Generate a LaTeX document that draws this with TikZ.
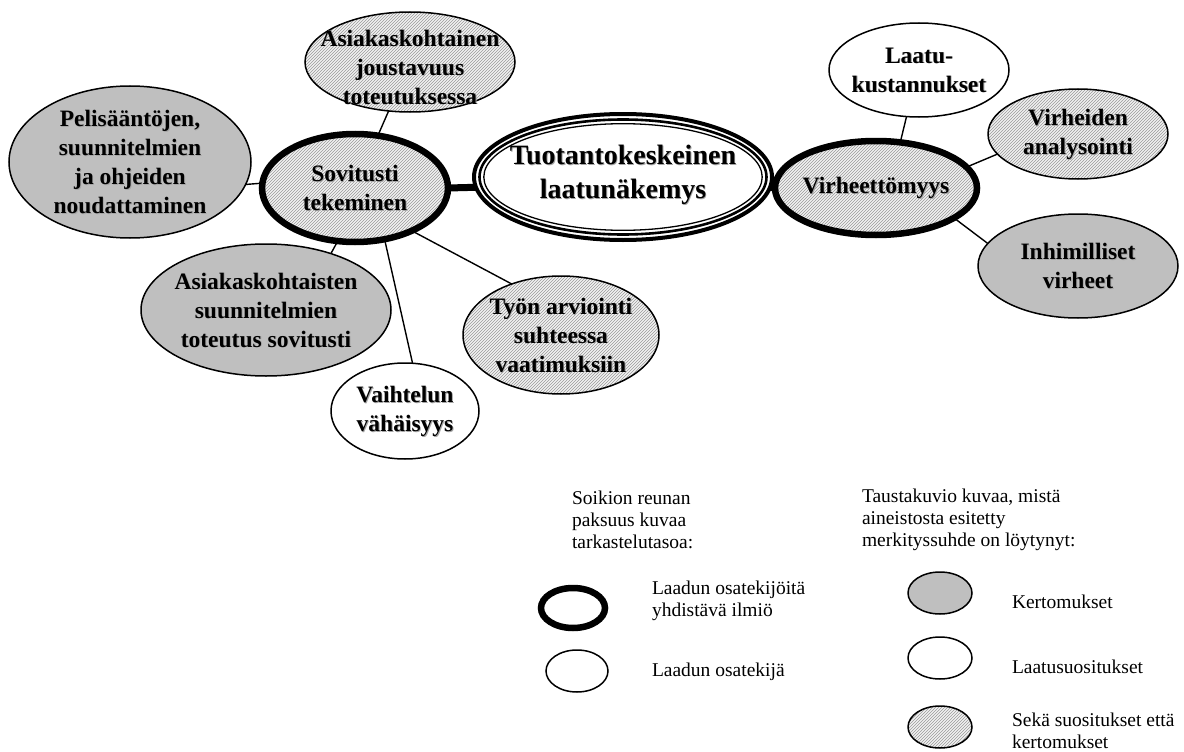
\documentclass[tikz,border=0pt]{standalone}
\usepackage{fontspec}
\setmainfont{Liberation Serif}
\usetikzlibrary{shapes.geometric,patterns}

\tikzset{
  every node/.style={inner sep=0pt, outer sep=0pt},
  oval/.style={ellipse, draw, line width=1.5pt},
  hubborder/.style={line width=6.5pt},
  kert/.style={fill=black!25},
  suos/.style={fill=white},
  both/.style={preaction={fill=black!5}, pattern=north east lines, pattern color=black!40},
  link/.style={line width=1.4pt},
  hublink/.style={line width=7pt},
  lbl/.style={align=center, font=\fontsize{23.5}{29}\selectfont\bfseries},
  lblshade/.style={lbl, text=black!35},
  titlefont/.style={font=\fontsize{28}{34}\selectfont\bfseries},
  legtxt/.style={align=left, anchor=west, font=\fontsize{19.5}{22}\selectfont},
}

% bold label with a faint offset shadow, centred in a named oval
\newcommand\ovaltext[3][]{%
  \node[lblshade,#1] (#2-s) at ([shift={(0.9,0.9)}]#2.center) {#3};
  \node[lbl,#1] (#2-t) at (#2.center) {#3};}

\begin{document}
\begin{tikzpicture}[x=1pt,y=-1pt]
\useasboundingbox (0,0) rectangle (1184,752);

% ---- ovals ----
\node[oval, kert, minimum width=242, minimum height=152] (pel) at (130,162) {};
\node[oval, both, minimum width=210, minimum height=100] (aj) at (410,62) {};
\node[oval, both, hubborder, minimum width=186, minimum height=108] (sov) at (355,188) {};
\node[oval, kert, minimum width=250, minimum height=132] (as) at (266,310) {};
\node[oval, suos, minimum width=148, minimum height=96] (vv) at (405,411) {};
\node[oval, both, minimum width=196, minimum height=118] (ta) at (561,335) {};

% central concept: three concentric outlines
\node[ellipse, draw, fill=white, line width=4pt, minimum width=298, minimum height=126] (core) at (623,177) {};
\draw[line width=2.6pt] (core.center) ellipse [x radius=143.5, y radius=57.5];
\draw[line width=1.3pt] (core.center) ellipse [x radius=139.2, y radius=53.3];

\node[oval, both, hubborder, minimum width=202, minimum height=94] (vir) at (876,188) {};
\node[oval, suos, minimum width=180, minimum height=94] (lk) at (919,70) {};
\node[oval, both, minimum width=180, minimum height=90] (va) at (1078,134) {};
\node[oval, kert, minimum width=200, minimum height=104] (iv) at (1078,266) {};

% ---- labels ----
\ovaltext{pel}{Pelisääntöjen,\\suunnitelmien\\ja ohjeiden\\noudattaminen}
\ovaltext[yshift=-5pt]{aj}{Asiakaskohtainen\\joustavuus\\toteutuksessa}
\ovaltext{sov}{Sovitusti\\tekeminen}
\ovaltext{as}{Asiakaskohtaisten\\suunnitelmien\\toteutus sovitusti}
\ovaltext{vv}{Vaihtelun\\vähäisyys}
\ovaltext{ta}{Työn arviointi\\suhteessa\\vaatimuksiin}
\ovaltext[titlefont, yshift=2pt]{core}{Tuotantokeskeinen\\laatunäkemys}
\ovaltext{vir}{Virheettömyys}
\ovaltext{lk}{Laatu-\\kustannukset}
\ovaltext{va}{Virheiden\\analysointi}
\ovaltext{iv}{Inhimilliset\\virheet}

% ---- connectors ----
\draw[hublink] (sov.east) -- (core.184.2);
\draw[hublink] (core.-4.2) -- (vir.west);
\draw[link] (sov.177) -- (pel.-11);
\draw[link] (sov) -- (aj);
\draw[link] (sov.-108) -- (as.41);
\draw[link] (sov.-60) -- (vv.81);
\draw[link] (sov.-37) -- (ta.134);
\draw[link] (vir.62) -- (lk.-105);
\draw[link] (vir.13) -- (va.-166);
\draw[link] (vir.-21) -- (iv.166);

% ---- legend: outline thickness ----
\node[legtxt] (legA) at (572,520) {Soikion reunan\\paksuus kuvaa\\tarkastelutasoa:};
\node[ellipse, draw, hubborder, minimum width=64, minimum height=40] (keyhub) at (573,608) {};
\node[legtxt] (keyhub-t) at (652,601) {Laadun osatekijöitä\\yhdistävä ilmiö};
\node[oval, minimum width=62, minimum height=42] (keypart) at (577,671) {};
\node[legtxt] (keypart-t) at (652,672) {Laadun osatekijä};

% ---- legend: background fill ----
\node[legtxt] (legB) at (862,520) {Taustakuvio kuvaa, mistä\\aineistosta esitetty\\merkityssuhde on löytynyt:};
\node[oval, kert, minimum width=64, minimum height=42] (keykert) at (940,593) {};
\node[legtxt] (keykert-t) at (1012,602) {Kertomukset};
\node[oval, suos, minimum width=64, minimum height=42] (keysuos) at (940,658) {};
\node[legtxt] (keysuos-t) at (1012,667) {Laatusuositukset};
\node[oval, both, minimum width=64, minimum height=42] (keyboth) at (940,727) {};
\node[legtxt] (keyboth-t) at (1012,731) {Sekä suositukset että\\kertomukset};

\end{tikzpicture}
\end{document}
